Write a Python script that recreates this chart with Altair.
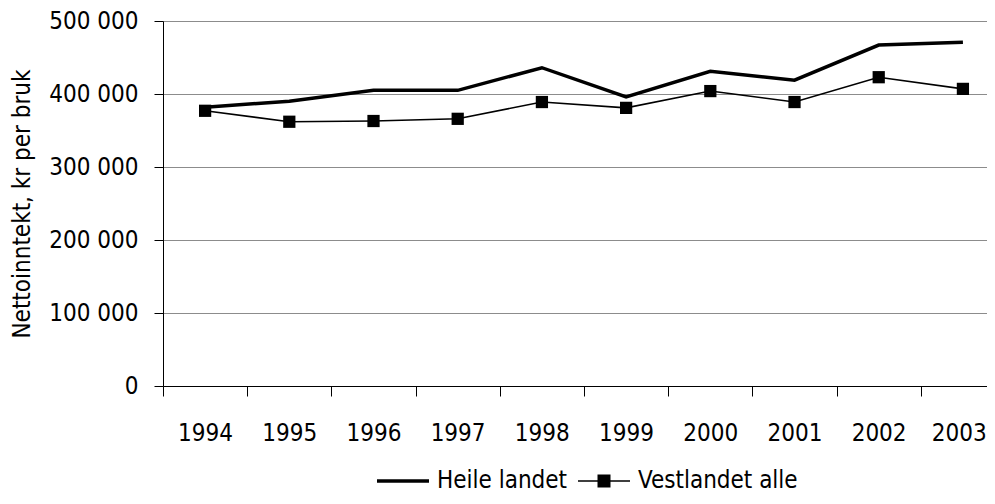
import altair as alt
import pandas as pd

years = list(range(1994, 2004))
heile = [382000, 390000, 405000, 405000, 436000, 396000, 431000, 419000, 467000, 471000]
vest = [377000, 362000, 363000, 366000, 389000, 381000, 404000, 389000, 423000, 407000]
series_names = ["Heile landet", "Vestlandet alle"]
y_ticks = [0, 100000, 200000, 300000, 400000, 500000]
x_tick_edges = [y - 0.5 for y in years]

df = pd.DataFrame({
    "year": years * 2,
    "value": heile + vest,
    "series": [series_names[0]] * len(years) + [series_names[1]] * len(years),
})

FONT = "DejaVu Sans Condensed"
FS = 24

x_enc = alt.X(
    "year:Q",
    scale=alt.Scale(domain=[1993.5, 2003.286], nice=False, zero=False),
    axis=alt.Axis(
        values=x_tick_edges,
        labelExpr="format(datum.value + 0.5, 'd')",
        labelOffset={"condition": {"test": "datum.value > 2002", "value": 38}, "value": 42},
        grid=False,
        tickSize=10,
        tickColor="black",
        domainColor="black",
        labelPadding=25,
        labelFontSize=FS,
        labelFont=FONT,
        labelColor="black",
        labelOverlap=False,
        labelFlush=False,
        labelBound=False,
        title=None,
    ),
)

y_enc = alt.Y(
    "value:Q",
    scale=alt.Scale(domain=[0, 500000], nice=False),
    axis=alt.Axis(
        values=y_ticks,
        labelExpr="replace(format(datum.value, ','), ',', ' ')",
        grid=True,
        gridColor="#8c8c8c",
        tickSize=9,
        tickColor="black",
        domainColor="black",
        labelPadding=16,
        labelFontSize=FS,
        labelFont=FONT,
        labelColor="black",
        title="Nettoinntekt, kr per bruk",
        titleFont=FONT,
        titleFontSize=FS,
        titleFontWeight="normal",
        titleColor="black",
        titlePadding=14,
    ),
)

base = alt.Chart(df)

heile_line = base.transform_filter(alt.datum.series == series_names[0]).mark_line(
    color="black", strokeWidth=3.5
).encode(x=x_enc, y=y_enc)

vest_line = base.transform_filter(alt.datum.series == series_names[1]).mark_line(
    color="black", strokeWidth=1.6
).encode(x=x_enc, y=y_enc)

vest_pts = base.transform_filter(alt.datum.series == series_names[1]).mark_square(
    color="black", size=150, opacity=1
).encode(x=x_enc, y=y_enc)

path_heile = "M-1,-0.067H1V0.067H-1Z"
path_vest = "M-1,-0.031H1V0.031H-1Z M-0.25,-0.25H0.25V0.25H-0.25Z"

legend_layer = base.mark_point(filled=True, opacity=0, color="black").encode(
    x=x_enc,
    y=y_enc,
    shape=alt.Shape(
        "series:N",
        scale=alt.Scale(domain=series_names, range=[path_heile, path_vest]),
        legend=alt.Legend(
            orient="none",
            legendX=214,
            legendY=434,
            direction="horizontal",
            title=None,
            symbolSize=2704,
            symbolFillColor="black",
            symbolStrokeColor="black",
            symbolStrokeWidth=0,
            symbolOpacity=1,
            labelFont=FONT,
            labelFontSize=FS,
            labelColor="black",
            labelOffset=8,
            columnPadding=10,
            padding=0,
        ),
    ),
)

chart = alt.layer(heile_line, vest_line, vest_pts, legend_layer).properties(
    width=824,
    height=365,
    autosize=alt.AutoSizeParams(type="none"),
    padding={"left": 155, "top": 13, "right": 0, "bottom": 108},
).configure_view(stroke=None).configure(background="white")

chart.save("out.html", embed_options={"renderer": "svg", "actions": False})
